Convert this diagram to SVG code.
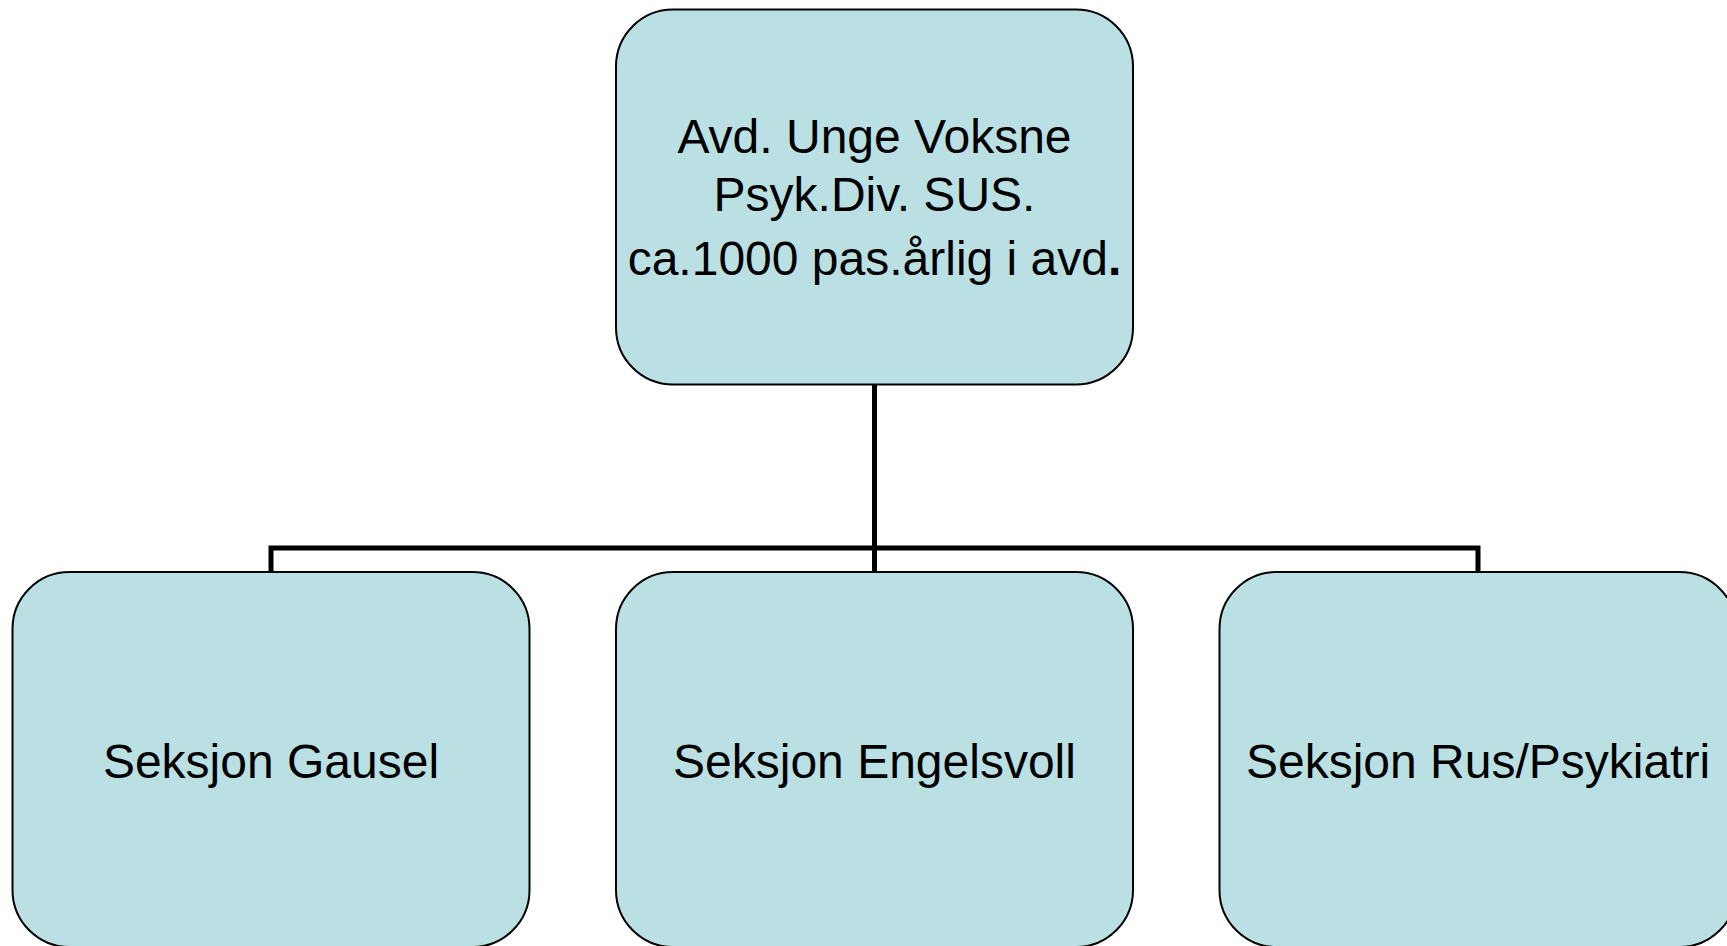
<svg xmlns="http://www.w3.org/2000/svg" width="1727" height="946" viewBox="0 0 1727 946">
<style>
.box{fill:#BAE0E3;stroke:#000;stroke-width:2}
.lbl{font-family:"Liberation Sans",Arial,sans-serif;font-size:48px;fill:#000;text-anchor:middle}
.conn{fill:none;stroke:#000;stroke-width:5}
</style>
<rect width="1727" height="946" fill="#fff"/>
<g id="connectors">
<path class="conn" d="M874.5 384.5 V572"/>
<path class="conn" d="M271 572 V548 H1478 V572"/>
</g>
<g id="node-top">
<rect class="box" x="616" y="9.5" width="517" height="375" rx="57" ry="57"/>
<text class="lbl" x="874.5" y="153">Avd. Unge Voksne</text>
<text class="lbl" x="874.5" y="211">Psyk.Div. SUS.</text>
<text class="lbl" x="874.5" y="275">ca.1000 pas.årlig i avd<tspan font-weight="bold">.</tspan></text>
</g>
<g id="node-gausel">
<rect class="box" x="12.5" y="572" width="517" height="375" rx="57" ry="57"/>
<text class="lbl" x="271" y="778">Seksjon Gausel</text>
</g>
<g id="node-engelsvoll">
<rect class="box" x="616" y="572" width="517" height="375" rx="57" ry="57"/>
<text class="lbl" x="874.5" y="778">Seksjon Engelsvoll</text>
</g>
<g id="node-rus">
<rect class="box" x="1219.5" y="572" width="517" height="375" rx="57" ry="57"/>
<text class="lbl" x="1478" y="778">Seksjon Rus/Psykiatri</text>
</g>
</svg>
